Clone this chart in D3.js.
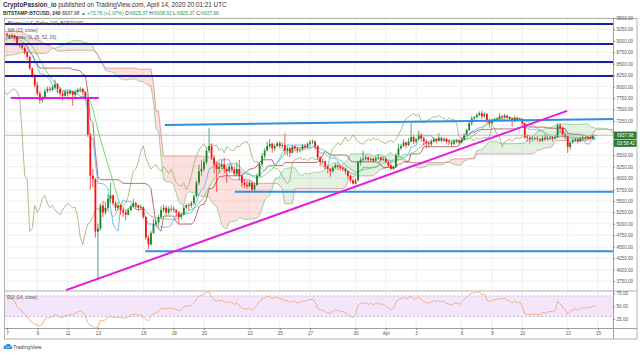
<!DOCTYPE html>
<html><head><meta charset="utf-8"><title>BTCUSD 240</title>
<script src="https://cdnjs.cloudflare.com/ajax/libs/d3/7.8.5/d3.min.js"></script>
<style>html,body{margin:0;padding:0;background:#fff}svg{display:block}text{font-family:"Liberation Sans",Arial,sans-serif}</style>
</head><body><svg id="chart" width="640" height="353"></svg>
<script>
// ---------------- DATA ----------------
// 4h bars, Bitstamp BTCUSD. History bars (Feb 23 - Mar 6) are only used to seed the indicators.
const firstOpen = 9660;
const preClose = [
 9700,9720,9780,9850,9900,9960, 9900,9850,9800,9700,9620,9650, 9600,9560,9500,9420,9350,9310,
 9250,9200,9050,8800,8750,8780, 8700,8650,8800,8900,8850,8790, 8700,8600,8500,8600,8700,8670,
 8700,8750,8700,8650,8600,8530, 8560,8600,8540,8480,8450,8530, 8600,8650,8700,8800,8900,8920,
 8850,8800,8700,8750,8720,8760, 8800,8780,8760,8700,8740,8750, 8800,8850,8900,9000,9100,9060,
 9050,9080,9100,9120,9150,9150];
const preHigh = [
 9730,9750,9800,9880,9950,9990, 10000,9960,9900,9850,9760,9700, 9690,9640,9600,9530,9450,9380,
 9380,9290,9230,9080,8850,8830, 8820,8760,8850,8960,8930,8880, 8860,8750,8650,8650,8800,8890,
 8720,8800,8780,8720,8680,8620, 8600,8660,8620,8560,8510,8560, 8630,8680,8730,8830,8950,8970,
 8910,8880,8820,8790,8770,8800, 8850,8820,8800,8780,8770,8790, 8820,8880,8930,9050,9150,9130,
 9100,9110,9130,9160,9180,9170];
const preLow = [
 9640,9680,9700,9770,9830,9880, 9860,9820,9750,9640,9560,9590, 9580,9520,9450,9380,9300,9260,
 9200,9150,9000,8700,8620,8700, 8650,8560,8540,8780,8800,8740, 8650,8550,8460,8480,8580,8620,
 8630,8680,8650,8600,8540,8500, 8500,8540,8500,8430,8410,8440, 8510,8580,8630,8690,8780,8870,
 8820,8780,8660,8680,8690,8700, 8740,8740,8720,8650,8690,8710, 8740,8780,8840,8890,8980,9020,
 9020,9030,9060,9080,9100,9120];

// Visible bars: Mar 7 00:00 -> Apr 14 20:00 UTC (6 bars per day)
const closes = [
 9120,9100,9120,9080,8950,8900, 8850,8750,8650,8400,8250,8030, 7850,7700,7750,7900,7950,7930,
 7980,8050,7950,7850,7800,7880, 7850,7900,7820,7880,7930,7950, 7880,7750,6950,6050,5980,4830,
 4900,5400,5250,5350,5550,5620, 5450,5350,5400,5300,5250,5200, 5300,5380,5450,5400,5350,5360,
 5150,4700,4550,4800,5000,5030, 5150,5300,5350,5250,5330,5330, 5300,5250,5150,5200,5350,5410,
 5400,5450,5600,5900,6150,6200, 6350,6600,6700,6450,6300,6200, 6250,6300,6200,6150,6250,6190,
 6100,6200,6050,5900,5850,5820, 5900,5750,5850,6050,6300,6480, 6600,6700,6750,6650,6700,6760,
 6700,6720,6600,6650,6550,6690, 6650,6600,6620,6700,6680,6750, 6780,6800,6700,6450,6350,6370,
 6250,6200,6150,6230,6280,6250, 6220,6200,6150,6050,5950,5880, 5950,6350,6400,6420,6450,6400,
 6420,6380,6430,6450,6400,6420, 6350,6280,6200,6250,6500,6650, 6700,6780,6720,6800,6900,6800,
 6850,6950,6870,6800,6760,6740, 6800,6850,6820,6880,6840,6860, 6800,6780,6750,6800,6820,6780,
 6850,6950,7050,7200,7300,7330, 7380,7420,7350,7400,7250,7200, 7250,7280,7300,7350,7330,7370,
 7330,7300,7250,7320,7280,7290, 7200,6900,6880,6850,6870,6870, 6850,6820,6880,6850,6870,6890,
 6880,6900,7150,7100,6950,6910, 6680,6780,6820,6850,6800,6860, 6880,6860,6900,6870,6925.37,6937.98];
const highs = [
 9180,9140,9160,9140,9100,8960, 8920,8870,8780,8680,8420,8280, 8100,7900,7800,7950,8000,8000,
 8030,8150,8080,7980,7900,7920, 7920,7940,7910,7930,7970,7990, 7970,7900,7760,6980,6200,6000,
 5000,5450,5500,5480,5650,5900, 5650,5500,5480,5420,5350,5300, 5350,5420,5550,5480,5420,5420,
 5380,5160,4750,4850,5100,5080, 5200,5380,5420,5400,5380,5400, 5380,5320,5280,5250,5400,5440,
 5460,5500,5650,5950,6300,6390, 6420,6650,7100,6750,6500,6350, 6350,6400,6450,6250,6300,6300,
 6250,6350,6400,6100,5980,5950, 5950,5920,5900,6100,6350,6550, 6650,6800,6850,6780,6750,6800,
 6800,6780,6980,6700,6680,6720, 6720,6680,6660,6740,6740,6780, 6830,6850,6820,6720,6480,6420,
 6380,6290,6220,6260,6320,6300, 6280,6260,6230,6160,6070,5990, 6000,6380,6450,6600,6500,6480,
 6470,6450,6480,6520,6470,6450, 6450,6380,6300,6280,6550,6750, 6750,6850,6800,6880,7200,6950,
 6880,7040,6980,6900,6850,6800, 6850,6900,6880,6980,6900,6890, 6880,6830,6800,6840,6860,6840,
 6880,6980,7080,7250,7360,7360, 7420,7460,7470,7440,7420,7300, 7290,7320,7340,7420,7390,7400,
 7380,7360,7330,7370,7340,7330, 7300,7220,6950,6930,6920,6900, 6920,6880,6920,6950,6910,6930,
 6920,6950,7200,7190,7120,6980, 6920,6800,6860,6880,6870,6900, 6920,6900,6930,6940,6960,6938.92];
const lows = [
 9080,9050,9070,9000,8900,8850, 8800,8700,8580,8350,8200,7980, 7800,7630,7650,7720,7860,7880,
 7900,7950,7850,7780,7700,7780, 7780,7820,7580,7760,7850,7880, 7820,7700,6900,5750,5800,4700,
 3780,4850,5150,5200,5300,5450, 5400,5280,5300,5200,5150,5080, 5180,5280,5370,5330,5280,5300,
 5100,4650,4440,4520,4780,4960, 4960,5100,5250,5180,5200,5260, 5250,5150,5000,5100,5180,5320,
 5300,5350,5420,5580,5850,6050, 6150,6300,6550,6400,6100,5700, 6100,6200,6100,5900,6100,6120,
 6050,6050,5950,5800,5780,5760, 5800,5700,5720,5830,6020,6250, 6420,6580,6650,6550,6600,6680,
 6650,6650,6520,6480,6460,6540, 6580,6540,6560,6600,6620,6660, 6700,6740,6620,6400,6250,6300,
 6200,6100,6030,6120,6200,6180, 6170,6150,6080,5980,5900,5860, 5860,5930,6280,6350,6380,6350,
 6360,6340,6350,6400,6350,6370, 6320,6240,6170,6180,6230,6480, 6620,6680,6650,6700,6780,6740,
 6760,6830,6800,6720,6650,6680, 6700,6780,6760,6800,6790,6800, 6760,6720,6680,6720,6760,6740,
 6760,6820,6920,7020,7150,7260, 7300,7350,7300,7320,7200,7100, 7150,7220,7240,7280,7290,7300,
 7290,7250,7120,7220,7240,7250, 7150,6870,6800,6760,6800,6820, 6800,6780,6790,6810,6820,6840,
 6800,6850,6880,7000,6900,6850, 6550,6620,6750,6780,6760,6790, 6820,6820,6840,6840,6850,6925.37];

const priceTicks = [3750,4000,4250,4500,4750,5000,5250,5500,5750,6000,6250,6500,6750,7000,7250,7500,7750,8000,8250,8500,8750,9000,9250,9500];
const timeTickDates = ["2020-03-07","2020-03-09","2020-03-11","2020-03-13","2020-03-16","2020-03-18","2020-03-20","2020-03-23","2020-03-25","2020-03-27","2020-03-30","2020-04-01","2020-04-03","2020-04-06","2020-04-08","2020-04-10","2020-04-13","2020-04-15"];
const timeTickLabels = ["7","9","11","13","16","18","20","23","25","27","30","Apr","3","6","8","10","13","15"];
const rsiTicks = [25,50,75];
const lastPrice = 6937.98;
const countdown = "03:58:42";
// Drawn levels (time, price)
const navyLevels = [9370, 8930, 8540, 8230];
const blueLines = [
  {t0:"2020-03-17T10:00Z", p0:7160, t1:"2020-04-16T00:00Z", p1:7290},
  {t0:"2020-03-22T01:00Z", p0:5700, t1:"2020-04-16T00:00Z", p1:5700},
  {t0:"2020-03-16T03:00Z", p0:4400, t1:"2020-04-16T00:00Z", p1:4400}];
const magentaLines = [
  {t0:"2020-03-07T06:00Z", p0:7750, t1:"2020-03-13T01:30Z", p1:7750},
  {t0:"2020-03-10T21:30Z", p0:3550, t1:"2020-04-12T23:00Z", p1:7470}];

// ---------------- BUILD SERIES ----------------
const C = preClose.concat(closes), Hh = preHigh.concat(highs), Ll = preLow.concat(lows);
const N = C.length, seriesStart = Date.UTC(2020,1,23,0), STEP = 4*3600*1000, visStart = preClose.length;
const bt = k => new Date(seriesStart + k*STEP);
const bars = C.map((c,k) => {
  const o = k === 0 ? firstOpen : C[k-1];
  return {k, t: bt(k), o, c, h: Math.max(Hh[k], o, c), l: Math.min(Ll[k], o, c)};
});
function mid(k, len){ if (k-len+1 < 0) return null; let hi=-Infinity, lo=Infinity;
  for (let j=k-len+1;j<=k;j++){ hi=Math.max(hi,bars[j].h); lo=Math.min(lo,bars[j].l);} return (hi+lo)/2; }
const tenkan = bars.map(b => ({t:b.t, v:mid(b.k,9)}));
const kijun = bars.map(b => ({t:b.t, v:mid(b.k,26)}));
const senkou = bars.map(b => {
  const tk = mid(b.k,9), kj = mid(b.k,26), sb = mid(b.k,52);
  return {t: bt(b.k+26), a: (tk!=null && kj!=null) ? (tk+kj)/2 : null, b: sb};
}).filter(d => d.a!=null && d.b!=null);
const chikou = bars.map(b => ({t: bt(b.k-26), v: b.c}));
const ma13 = bars.map(b => ({t:b.t, v: b.k>=12 ? d3.mean(C.slice(b.k-12,b.k+1)) : null}));
function rsiCalc(cl, n){ const out = new Array(cl.length).fill(null); let g=0,l=0;
  for (let i=1;i<=n;i++){ const d=cl[i]-cl[i-1]; if(d>0) g+=d; else l-=d; }
  g/=n; l/=n; out[n] = 100-100/(1+g/l);
  for (let i=n+1;i<cl.length;i++){ const d=cl[i]-cl[i-1];
    g=(g*(n-1)+Math.max(d,0))/n; l=(l*(n-1)+Math.max(-d,0))/n; out[i] = l===0?100:100-100/(1+g/l); }
  return out; }
const rsiVals = rsiCalc(C,14);
const rsi = bars.map(b => ({t:b.t, v:rsiVals[b.k]}));

// ---------------- LAYOUT ----------------
const svg = d3.select("#chart");
const P = {l:5, r:613, t:19, b:291, rb:328, bottom:339, right:637};
const x = d3.scaleUtc().domain([new Date(Date.UTC(2020,2,7)), new Date(Date.UTC(2020,3,15))]).range([7,598]);
const y = d3.scaleLinear().domain([3750,9500]).range([281,18]);
const yr = d3.scaleLinear().domain([30,70]).range([316.5,296]);
const pd = s => new Date(s);
const FONT = "Liberation Sans, Arial, sans-serif";

const defs = svg.append("defs");
defs.append("clipPath").attr("id","mainClip").append("rect").attr("x",P.l).attr("y",P.t).attr("width",P.r-P.l).attr("height",P.b-P.t);
defs.append("clipPath").attr("id","rsiClip").append("rect").attr("x",P.l).attr("y",P.b).attr("width",P.r-P.l).attr("height",P.rb-P.b);

// grid
const grid = svg.append("g");
grid.selectAll("line.v").data(timeTickDates).join("line")
  .attr("x1",d=>x(pd(d))).attr("x2",d=>x(pd(d))).attr("y1",P.t).attr("y2",P.rb)
  .attr("stroke","#ececec").attr("stroke-width",0.8);
grid.selectAll("line.h").data(priceTicks).join("line")
  .attr("x1",P.l).attr("x2",P.r).attr("y1",d=>y(d)).attr("y2",d=>y(d))
  .attr("stroke","#ececec").attr("stroke-width",0.8);

const main = svg.append("g").attr("clip-path","url(#mainClip)");

// cloud fills
main.append("path").datum(senkou)
  .attr("d", d3.area().x(d=>x(d.t)).y0(d=>y(d.b)).y1(d=>y(Math.max(d.a,d.b))))
  .attr("fill","rgba(76,175,80,0.16)");
main.append("path").datum(senkou)
  .attr("d", d3.area().x(d=>x(d.t)).y0(d=>y(d.a)).y1(d=>y(Math.max(d.a,d.b))))
  .attr("fill","rgba(244,67,54,0.16)");
const lineV = d3.line().defined(d=>d.v!=null).x(d=>x(d.t)).y(d=>y(d.v));
main.append("path").datum(senkou).attr("d", d3.line().x(d=>x(d.t)).y(d=>y(d.a)))
  .attr("fill","none").attr("stroke","#8cc98c").attr("stroke-width",0.8);
main.append("path").datum(senkou).attr("d", d3.line().x(d=>x(d.t)).y(d=>y(d.b)))
  .attr("fill","none").attr("stroke","#e38b8b").attr("stroke-width",0.8);
main.append("path").datum(chikou).attr("d", lineV).attr("fill","none").attr("stroke","#9aae6e").attr("stroke-width",0.8);
main.append("path").datum(kijun).attr("d", lineV).attr("fill","none").attr("stroke","#a4484f").attr("stroke-width",0.8);
main.append("path").datum(tenkan).attr("d", lineV).attr("fill","none").attr("stroke","#5aa9f0").attr("stroke-width",0.8);
main.append("path").datum(ma13).attr("d", lineV).attr("fill","none").attr("stroke","#66d266").attr("stroke-width",0.9);

// candles
const vis = bars.slice(visStart);
const up = "#21812b", down = "#ff1010";
const cg = main.append("g");
cg.selectAll("line").data(vis).join("line")
  .attr("x1",d=>x(d.t)).attr("x2",d=>x(d.t)).attr("y1",d=>y(d.h)).attr("y2",d=>y(d.l))
  .attr("stroke",d=>d.c>=d.o?up:down).attr("stroke-width",0.7);
cg.selectAll("rect").data(vis).join("rect")
  .attr("x",d=>x(d.t)-0.9).attr("width",1.8)
  .attr("y",d=>y(Math.max(d.o,d.c))).attr("height",d=>Math.max(0.8, Math.abs(y(d.o)-y(d.c))))
  .attr("fill",d=>d.c>=d.o?up:down);

// legend text
const leg = svg.append("g").attr("font-size",4.6).attr("fill","#555");
leg.append("text").attr("x",8).attr("y",25).text("Bitcoin / U.S. Dollar, 240, BITSTAMP");
leg.append("text").attr("x",8).attr("y",32).text("MA (13, close)");
leg.append("text").attr("x",8).attr("y",39).text("Ichimoku (9, 26, 52, 26)");

// price line
main.append("line").attr("x1",P.l).attr("x2",P.r).attr("y1",y(lastPrice)).attr("y2",y(lastPrice))
  .attr("stroke","#a8a8a8").attr("stroke-width",0.8);

// drawings
main.selectAll("line.navy").data(navyLevels).join("line")
  .attr("x1",P.l).attr("x2",P.r).attr("y1",d=>y(d)).attr("y2",d=>y(d))
  .attr("stroke","#1c1cae").attr("stroke-width",2);
main.selectAll("line.blue").data(blueLines).join("line")
  .attr("x1",d=>x(pd(d.t0))).attr("x2",d=>x(pd(d.t1))).attr("y1",d=>y(d.p0)).attr("y2",d=>y(d.p1))
  .attr("stroke","#2f8fe0").attr("stroke-width",2);
main.selectAll("line.mag").data(magentaLines).join("line")
  .attr("x1",d=>x(pd(d.t0))).attr("x2",d=>x(pd(d.t1))).attr("y1",d=>y(d.p0)).attr("y2",d=>y(d.p1))
  .attr("stroke","#e21de2").attr("stroke-width",2);

// RSI pane
const rg = svg.append("g").attr("clip-path","url(#rsiClip)");
rg.append("rect").attr("x",P.l).attr("width",P.r-P.l).attr("y",yr(70)).attr("height",yr(30)-yr(70)).attr("fill","#f3e6fb");
[70,30].forEach(v => rg.append("line").attr("x1",P.l).attr("x2",P.r).attr("y1",yr(v)).attr("y2",yr(v))
  .attr("stroke","#b9a3c9").attr("stroke-width",0.7).attr("stroke-dasharray","2,2"));
rg.append("path").datum(rsi.slice(visStart)).attr("d", d3.line().defined(d=>d.v!=null).x(d=>x(d.t)).y(d=>yr(d.v)))
  .attr("fill","none").attr("stroke","#f2a26a").attr("stroke-width",0.8);
svg.append("text").attr("x",7).attr("y",299).attr("font-size",4.6).attr("fill","#555").text("RSI (14, close)");

// frame lines
const fr = svg.append("g").attr("stroke","#a0a0a0").attr("stroke-width",0.8).attr("fill","none");
fr.append("rect").attr("x",4.5).attr("y",P.t-0.5).attr("width",P.right-4.5).attr("height",P.bottom-P.t+0.5);
fr.append("line").attr("x1",4.5).attr("x2",P.right).attr("y1",P.b).attr("y2",P.b);

// price axis (labels hidden behind the last-price tag are not drawn)
const ly = y(lastPrice);
const ya = svg.append("g").attr("transform",`translate(${P.r},0)`)
  .call(d3.axisRight(y).tickValues(priceTicks).tickFormat(d3.format(".2f")).tickSize(2).tickPadding(1.5));
ya.select(".domain").attr("stroke","#a0a0a0").attr("d",`M0.5,${P.t}V${P.bottom}`);
ya.selectAll(".tick line").attr("stroke","#888");
ya.selectAll("text").attr("font-size",4.6).attr("fill","#555").attr("font-family",FONT);
ya.selectAll(".tick").filter(d => Math.abs(y(d)-ly) < 3 || (y(d)-ly > 3 && y(d)-ly < 12)).select("text").remove();
ya.selectAll(".tick").filter(d => ly - y(d) >= 2 && ly - y(d) < 5).select("text").attr("dy","-0.05em");

// RSI axis
const ra = svg.append("g").attr("transform",`translate(${P.r},0)`)
  .call(d3.axisRight(yr).tickValues(rsiTicks).tickFormat(d3.format(".2f")).tickSize(2).tickPadding(1.5));
ra.select(".domain").remove();
ra.selectAll(".tick line").attr("stroke","#888");
ra.selectAll("text").attr("font-size",4.6).attr("fill","#555").attr("font-family",FONT);

// time axis
const xa = svg.append("g").attr("transform",`translate(0,${P.rb})`)
  .call(d3.axisBottom(x).tickValues(timeTickDates.map(pd)).tickFormat((d,i)=>timeTickLabels[i]).tickSize(2).tickPadding(2));
xa.select(".domain").attr("stroke","#a0a0a0").attr("d",`M4.5,0.5H${P.right}`);
xa.selectAll(".tick line").attr("stroke","#888");
xa.selectAll("text").attr("font-size",4.6).attr("fill","#555").attr("font-family",FONT);

// last price tag
svg.append("rect").attr("x",P.r+1).attr("y",ly-3.6).attr("width",P.right-P.r-1.5).attr("height",7.6).attr("fill","#2e7a30");
svg.append("text").attr("x",P.r+4).attr("y",ly+2.1).attr("font-size",4.6).attr("fill","#fff").text(lastPrice.toFixed(2));
svg.append("rect").attr("x",P.r+1).attr("y",ly+4.5).attr("width",P.right-P.r-1.5).attr("height",7.2).attr("fill","#2e7a30");
svg.append("text").attr("x",P.r+4).attr("y",ly+9.8).attr("font-size",4.6).attr("fill","#fff").text(countdown);

// header
const h1 = svg.append("text").attr("x",3).attr("y",7).attr("font-size",6.3).attr("fill","#333");
h1.append("tspan").attr("font-weight","bold").text("CryptoPassion_io");
h1.append("tspan").text(" published on TradingView.com, April 14, 2020 20:01:21 UTC");
const h2 = svg.append("text").attr("x",3).attr("y",14.5).attr("font-size",4.9).attr("fill","#333");
h2.append("tspan").attr("font-weight","bold").text("BITSTAMP:BTCUSD, 240 ");
h2.append("tspan").text("6937.98 ");
h2.append("tspan").attr("fill","#1f9d5a").text("▲ +73.76 (+1.07%)");
[["O:","6925.37"],["H:","6938.92"],["L:","6925.37"],["C:","6937.98"]].forEach(([k,v]) => {
  h2.append("tspan").text(" "+k); h2.append("tspan").attr("fill","#1f9d5a").text(v);
});

// footer logo
const lg = svg.append("g").attr("transform","translate(4,343)");
lg.append("path").attr("d","M0,6 a2.2,2.2 0 0 1 1.6,-3.6 a3,3 0 0 1 5.6,0.6 a1.8,1.8 0 0 1 0.6,3 z").attr("fill","#2a8fe6");
lg.append("path").attr("d","M1.5,5.6 l1.8,-1.8 l1.3,1.1 l2,-2").attr("stroke","#fff").attr("stroke-width",0.7).attr("fill","none");
svg.append("text").attr("x",13).attr("y",349).attr("font-size",5.2).attr("fill","#444").text("TradingView");
</script></body></html>
